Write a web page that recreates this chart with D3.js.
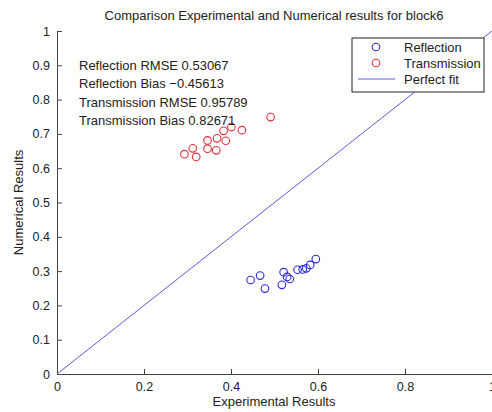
<!DOCTYPE html>
<html>
<head>
<meta charset="utf-8">
<script src="https://cdn.jsdelivr.net/npm/d3@7"></script>
<style>
  html, body { margin: 0; padding: 0; background: #fff; }
  svg { display: block; font-family: "Liberation Sans", Arial, Helvetica, sans-serif; }
</style>
</head>
<body>
<svg id="chart" width="492" height="412"></svg>
<script>
// Reflection: experimental vs numerical
const reflExp = [0.445, 0.467, 0.478, 0.521, 0.517, 0.529, 0.535, 0.553, 0.565, 0.573, 0.582, 0.595];
const reflNum = [0.274, 0.287, 0.249, 0.297, 0.260, 0.283, 0.277, 0.304, 0.305, 0.308, 0.318, 0.335];
// Transmission: experimental vs numerical
const transExp = [0.293, 0.312, 0.320, 0.346, 0.346, 0.366, 0.368, 0.383, 0.388, 0.401, 0.425, 0.491];
const transNum = [0.641, 0.658, 0.633, 0.681, 0.657, 0.652, 0.687, 0.709, 0.680, 0.720, 0.711, 0.749];
// Reference line for a perfect fit
const fitLine = [0, 1];

const xTicks = [0, 0.2, 0.4, 0.6, 0.8, 1];
const yTicks = [0, 0.1, 0.2, 0.3, 0.4, 0.5, 0.6, 0.7, 0.8, 0.9, 1];

const statsLines = [
  "Reflection RMSE 0.53067",
  "Reflection Bias \u22120.45613",
  "Transmission RMSE 0.95789",
  "Transmission Bias 0.82671"
];
const legendLabels = ["Reflection", "Transmission", "Perfect fit"];

const blue = "#2b2bd6";
const red = "#e0303c";
const lineBlue = "#5a5ae6";
const axisColor = "#444";

const svg = d3.select("#chart");
const x = d3.scaleLinear().domain([0, 1]).range([57, 492]);
const y = d3.scaleLinear().domain([0, 1]).range([374, 31]);

// Title
svg.append("text")
  .attr("x", 274).attr("y", 20)
  .attr("text-anchor", "middle")
  .attr("font-size", 13).attr("fill", "#222")
  .text("Comparison Experimental and Numerical results for block6");

// Axes (ticks pointing inward)
const fmt = d => d === 0 || d === 1 ? String(d) : d3.format(".1f")(d);
const xAxis = svg.append("g").attr("transform", `translate(0,${y(0)})`)
  .call(d3.axisBottom(x).tickValues(xTicks).tickFormat(fmt).tickSizeInner(-5).tickSizeOuter(0).tickPadding(8));
const yAxis = svg.append("g").attr("transform", `translate(${x(0)},0)`)
  .call(d3.axisLeft(y).tickValues(yTicks).tickFormat(fmt).tickSizeInner(-5).tickSizeOuter(0).tickPadding(7));
[xAxis, yAxis].forEach(g => {
  g.select(".domain").attr("stroke", axisColor).attr("stroke-width", 1);
  g.selectAll(".tick line").attr("stroke", axisColor);
  g.selectAll(".tick text").attr("font-size", 12.5).attr("fill", "#222")
    .attr("font-family", "'Liberation Sans', Arial, sans-serif");
});

// Axis labels
svg.append("text")
  .attr("x", 274).attr("y", 406)
  .attr("text-anchor", "middle").attr("font-size", 13).attr("fill", "#222")
  .text("Experimental Results");
svg.append("text")
  .attr("transform", `translate(23,${y(0.5)}) rotate(-90)`)
  .attr("text-anchor", "middle").attr("font-size", 13).attr("fill", "#222")
  .text("Numerical Results");

// Perfect fit line
svg.append("line")
  .attr("x1", x(fitLine[0])).attr("y1", y(fitLine[0]))
  .attr("x2", x(fitLine[1])).attr("y2", y(fitLine[1]))
  .attr("stroke", lineBlue).attr("stroke-width", 1);

// Markers
svg.append("g").selectAll("circle").data(reflExp.map((v, i) => [v, reflNum[i]]))
  .join("circle")
  .attr("cx", d => x(d[0])).attr("cy", d => y(d[1])).attr("r", 3.8)
  .attr("fill", "none").attr("stroke", blue).attr("stroke-width", 1.1);
svg.append("g").selectAll("circle").data(transExp.map((v, i) => [v, transNum[i]]))
  .join("circle")
  .attr("cx", d => x(d[0])).attr("cy", d => y(d[1])).attr("r", 3.8)
  .attr("fill", "none").attr("stroke", red).attr("stroke-width", 1.1);

// Statistics text
svg.append("g").selectAll("text").data(statsLines).join("text")
  .attr("x", 79).attr("y", (d, i) => 69.5 + i * 18.5)
  .attr("font-size", 13).attr("fill", "#222")
  .text(d => d);

// Legend
const leg = svg.append("g");
leg.append("rect")
  .attr("x", 352).attr("y", 38).attr("width", 132).attr("height", 54)
  .attr("fill", "#fff").attr("stroke", "#222").attr("stroke-width", 1);
const legY = [47, 63, 79];
leg.append("circle").attr("cx", 376).attr("cy", legY[0]).attr("r", 3.8)
  .attr("fill", "none").attr("stroke", blue).attr("stroke-width", 1.1);
leg.append("circle").attr("cx", 376).attr("cy", legY[1]).attr("r", 3.8)
  .attr("fill", "none").attr("stroke", red).attr("stroke-width", 1.1);
leg.append("line").attr("x1", 358).attr("x2", 395).attr("y1", legY[2]).attr("y2", legY[2])
  .attr("stroke", lineBlue).attr("stroke-width", 1);
leg.selectAll("text").data(legendLabels).join("text")
  .attr("x", 404).attr("y", (d, i) => legY[i] + 4.5)
  .attr("font-size", 13).attr("fill", "#222")
  .text(d => d);
</script>
</body>
</html>
